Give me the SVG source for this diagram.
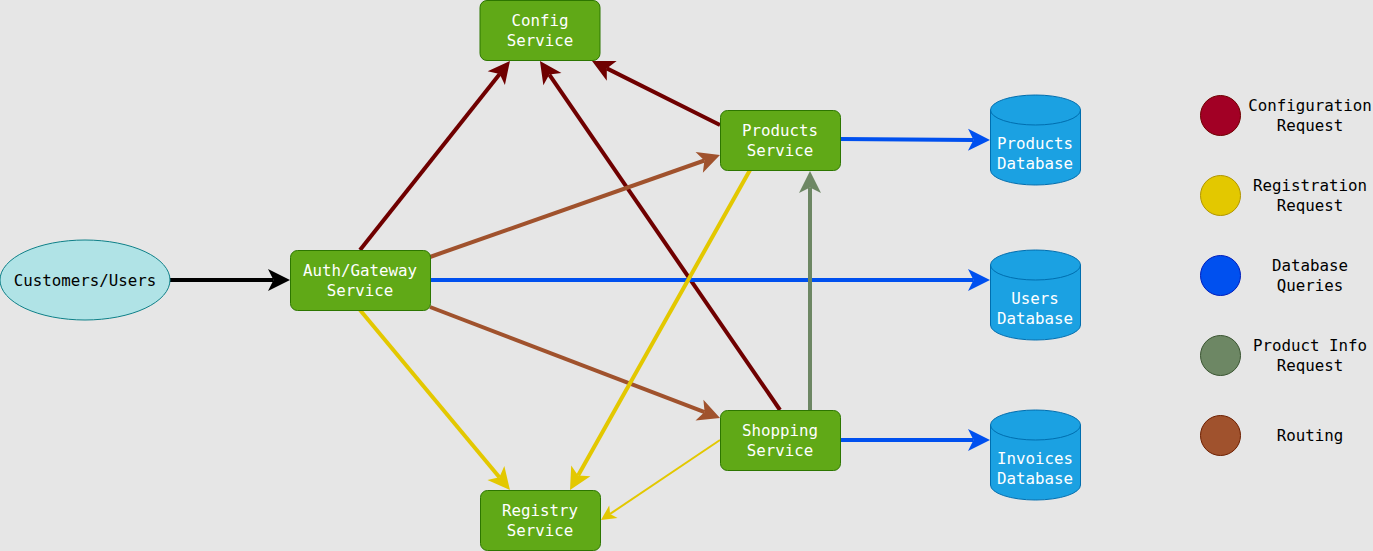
<svg xmlns="http://www.w3.org/2000/svg" width="1373" height="551" viewBox="0 0 1373 551">
<style>
.svc rect{fill:#60A917;stroke:#2D7600;stroke-width:1}
.svc text,.db text{fill:#FFFFFF}
text{font-family:"DejaVu Sans Mono","Liberation Mono",monospace;font-size:15.8px;text-anchor:middle}
.db path{fill:#1BA1E2;stroke:#006EAF;stroke-width:1}
.lg text{fill:#000000}
.edges path{fill:none;stroke-width:4}
</style>
<defs>
<marker id="mBlack" markerUnits="userSpaceOnUse" orient="auto" markerWidth="40" markerHeight="40" refX="0" refY="0" overflow="visible"><path d="M16.5,0 L-5.5,-11 L0,0 L-5.5,11 Z" fill="#000000"/></marker>
<marker id="mRed" markerUnits="userSpaceOnUse" orient="auto" markerWidth="40" markerHeight="40" refX="0" refY="0" overflow="visible"><path d="M16.5,0 L-5.5,-11 L0,0 L-5.5,11 Z" fill="#6F0000"/></marker>
<marker id="mBrown" markerUnits="userSpaceOnUse" orient="auto" markerWidth="40" markerHeight="40" refX="0" refY="0" overflow="visible"><path d="M16.5,0 L-5.5,-11 L0,0 L-5.5,11 Z" fill="#A0522D"/></marker>
<marker id="mBlue" markerUnits="userSpaceOnUse" orient="auto" markerWidth="40" markerHeight="40" refX="0" refY="0" overflow="visible"><path d="M16.5,0 L-5.5,-11 L0,0 L-5.5,11 Z" fill="#0050EF"/></marker>
<marker id="mGreen" markerUnits="userSpaceOnUse" orient="auto" markerWidth="40" markerHeight="40" refX="0" refY="0" overflow="visible"><path d="M16.5,0 L-5.5,-11 L0,0 L-5.5,11 Z" fill="#6D8764"/></marker>
<marker id="mYellow" markerUnits="userSpaceOnUse" orient="auto" markerWidth="40" markerHeight="40" refX="0" refY="0" overflow="visible"><path d="M16.5,0 L-5.5,-11 L0,0 L-5.5,11 Z" fill="#E3C800"/></marker>
<marker id="mYellowS" markerUnits="userSpaceOnUse" orient="auto" markerWidth="30" markerHeight="30" refX="0" refY="0" overflow="visible"><path d="M11,0 L-4,-7.5 L0,0 L-4,7.5 Z" fill="#E3C800"/></marker>
</defs>
<rect x="0" y="0" width="1373" height="551" fill="#E6E6E6"/>

<g id="connectors" class="edges">
<path d="M170,280 L273.5,280" stroke="#000000" marker-end="url(#mBlack)"/>
<path d="M360,250 L499.7,73.9" stroke="#6F0000" marker-end="url(#mRed)"/>
<path d="M780,410 L549.3,74.6" stroke="#6F0000" marker-end="url(#mRed)"/>
<path d="M720,125 L606.8,68.4" stroke="#6F0000" marker-end="url(#mRed)"/>
<path d="M430,257 L704.4,160.5" stroke="#A0522D" marker-end="url(#mBrown)"/>
<path d="M430,307 L704.6,412.1" stroke="#A0522D" marker-end="url(#mBrown)"/>
<path d="M430,280 L973.5,280" stroke="#0050EF" marker-end="url(#mBlue)"/>
<path d="M840,139 L973.5,139.9" stroke="#0050EF" marker-end="url(#mBlue)"/>
<path d="M840,440 L973.5,440" stroke="#0050EF" marker-end="url(#mBlue)"/>
<path d="M810,410 L810,187.5" stroke="#6D8764" marker-end="url(#mGreen)"/>
<path d="M360,310 L499.4,477.3" stroke="#E3C800" marker-end="url(#mYellow)"/>
<path d="M750,170 L578.1,475.6" stroke="#E3C800" marker-end="url(#mYellow)"/>
<path d="M720,440 L610.1,513.9" stroke="#E3C800" stroke-width="2" style="stroke-width:2" marker-end="url(#mYellowS)"/>
</g>

<g id="customers">
<ellipse cx="85" cy="280" rx="85" ry="40" fill="#B0E3E6" stroke="#0E8088" stroke-width="1"/>
<text x="85" y="286" fill="#000000">Customers/Users</text>
</g>

<g id="config" class="svc">
<rect x="480" y="0.5" width="120" height="60" rx="7" ry="7"/>
<text x="540" y="26">Config</text>
<text x="540" y="46">Service</text>
</g>

<g id="products" class="svc">
<rect x="720.5" y="110.5" width="120" height="60" rx="7" ry="7"/>
<text x="780" y="136">Products</text>
<text x="780" y="156">Service</text>
</g>

<g id="auth" class="svc">
<rect x="290.5" y="250.5" width="140" height="60" rx="7" ry="7"/>
<text x="360" y="276">Auth/Gateway</text>
<text x="360" y="296">Service</text>
</g>

<g id="shopping" class="svc">
<rect x="720.5" y="410.5" width="120" height="60" rx="7" ry="7"/>
<text x="780" y="436">Shopping</text>
<text x="780" y="456">Service</text>
</g>

<g id="registry" class="svc">
<rect x="480.5" y="490.5" width="120" height="60" rx="7" ry="7"/>
<text x="540" y="516">Registry</text>
<text x="540" y="536">Service</text>
</g>

<g id="productsDb" class="db">
<path d="M990.5,110 A45,15 0 0,1 1080.5,110 V170 A45,15 0 0,1 990.5,170 Z"/>
<path d="M990.5,110 A45,15 0 0,0 1080.5,110" fill="none"/>
<text x="1035" y="149">Products</text>
<text x="1035" y="169">Database</text>
</g>

<g id="usersDb" class="db">
<path d="M990.5,265 A45,15 0 0,1 1080.5,265 V325 A45,15 0 0,1 990.5,325 Z"/>
<path d="M990.5,265 A45,15 0 0,0 1080.5,265" fill="none"/>
<text x="1035" y="304">Users</text>
<text x="1035" y="324">Database</text>
</g>

<g id="invoicesDb" class="db">
<path d="M990.5,425 A45,15 0 0,1 1080.5,425 V485 A45,15 0 0,1 990.5,485 Z"/>
<path d="M990.5,425 A45,15 0 0,0 1080.5,425" fill="none"/>
<text x="1035" y="464">Invoices</text>
<text x="1035" y="484">Database</text>
</g>

<g id="legendConfig" class="lg">
<circle cx="1220.5" cy="115.5" r="20" fill="#A20025" stroke="#6F0000"/>
<text x="1310" y="111">Configuration</text>
<text x="1310" y="131">Request</text>
</g>
<g id="legendRegistration" class="lg">
<circle cx="1220.5" cy="195.5" r="20" fill="#E3C800" stroke="#B09500"/>
<text x="1310" y="191">Registration</text>
<text x="1310" y="211">Request</text>
</g>
<g id="legendDatabase" class="lg">
<circle cx="1220.5" cy="275.5" r="20" fill="#0050EF" stroke="#001DBC"/>
<text x="1310" y="271">Database</text>
<text x="1310" y="291">Queries</text>
</g>
<g id="legendProductInfo" class="lg">
<circle cx="1220.5" cy="355.5" r="20" fill="#6D8764" stroke="#3A5431"/>
<text x="1310" y="351">Product Info</text>
<text x="1310" y="371">Request</text>
</g>
<g id="legendRouting" class="lg">
<circle cx="1220.5" cy="435.5" r="20" fill="#A0522D" stroke="#6D1F00"/>
<text x="1310" y="441">Routing</text>
</g>
</svg>
